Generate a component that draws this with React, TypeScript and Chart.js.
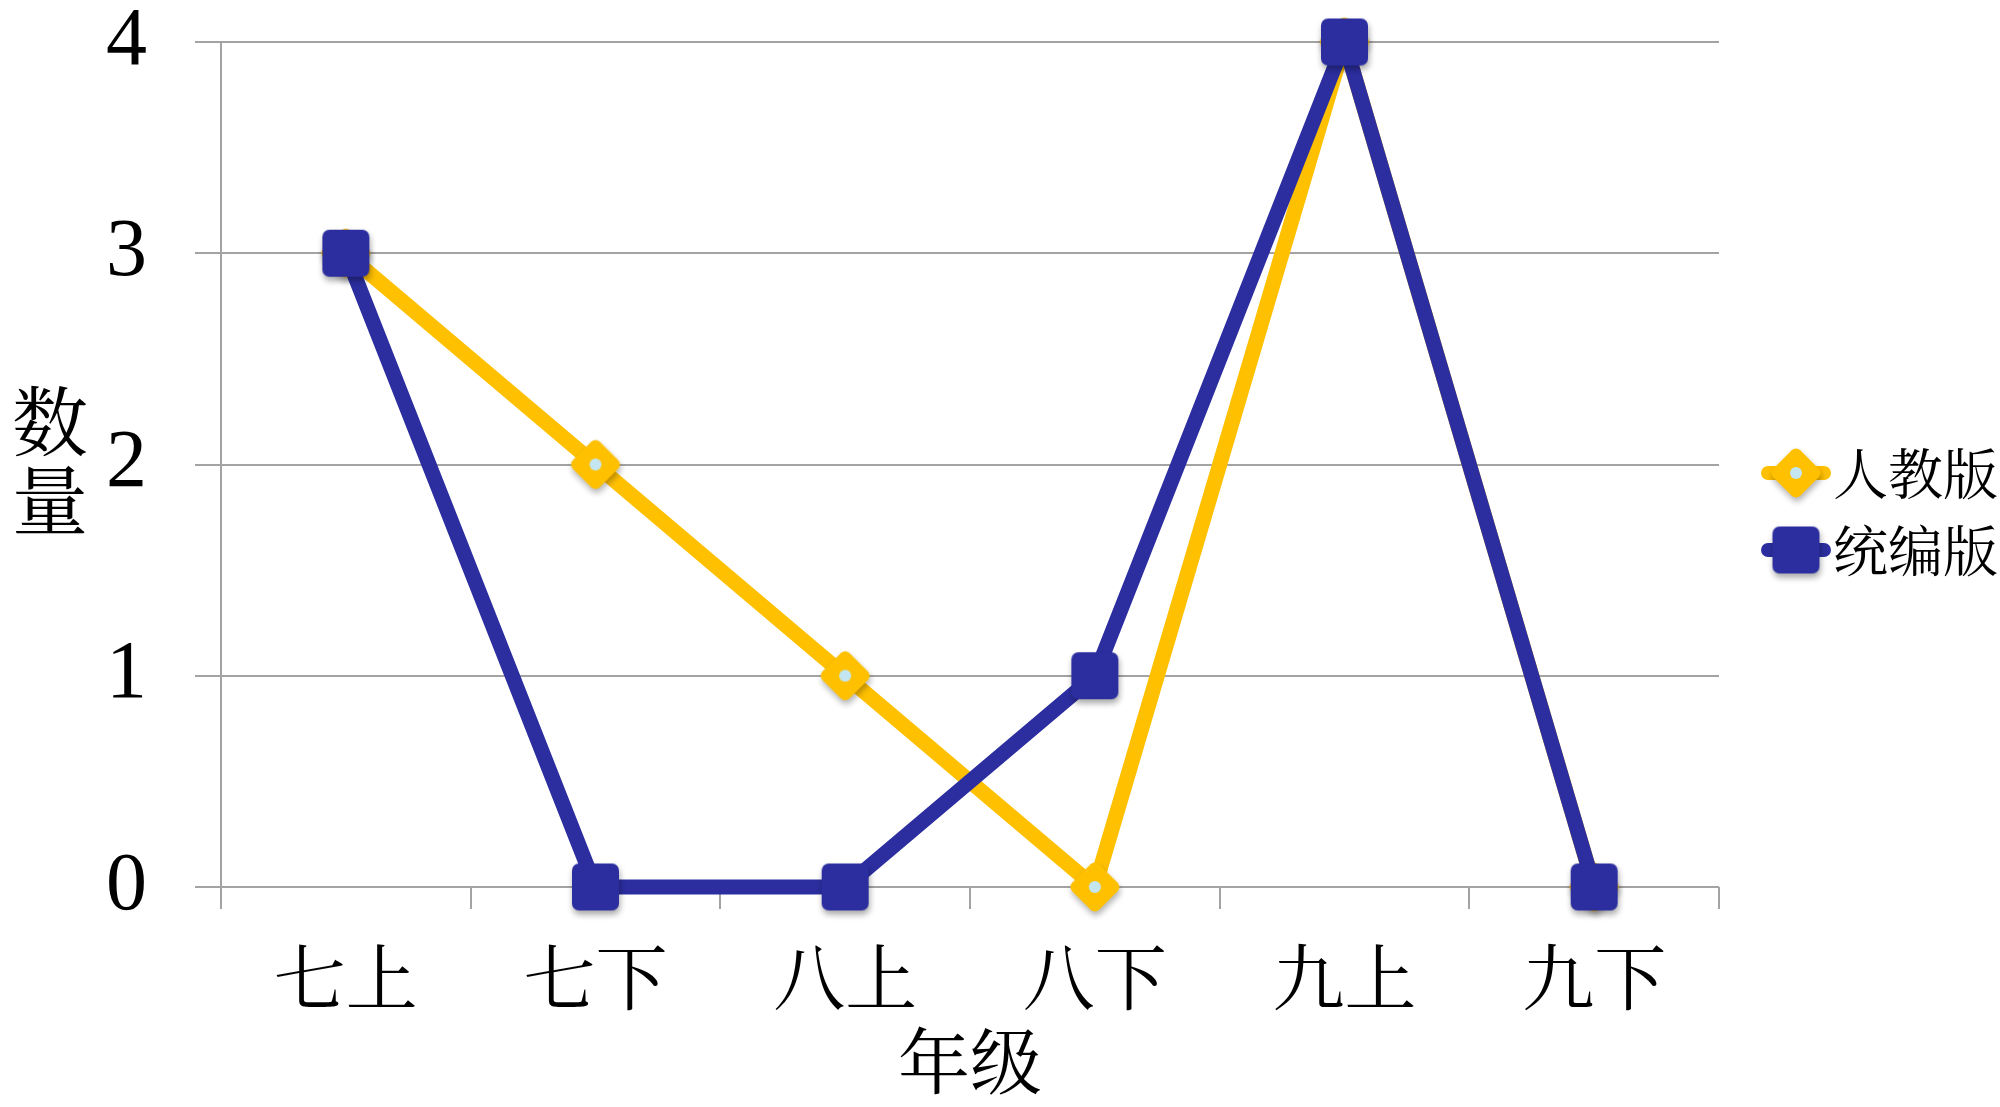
import React, { useEffect, useRef } from "react";
import { Chart, registerables } from "chart.js";

Chart.register(...registerables);

// Grades (semesters) along the x axis
const grades = ["七上", "七下", "八上", "八下", "九上", "九下"];
// Number of items per semester for each textbook edition
const renjiaoValues = [3, 2, 1, 0, 4, 0];
const tongbianValues = [3, 0, 0, 1, 4, 0];
const seriesNames = ["人教版", "统编版"];
const yTicks = [0, 1, 2, 3, 4];
const xTitle = "年级";
const yTitle = ["数", "量"];

const YELLOW = "#FFC000";
const BLUE = "#2c2ea0";
const GRID = "#a3a3a3";
const CJK = '"Noto Serif CJK SC", "Noto Sans CJK SC", sans-serif';
const SERIF = '"Liberation Serif", "DejaVu Serif", serif';

function roundRectPath(g: CanvasRenderingContext2D, x: number, y: number, w: number, h: number, r: number) {
  g.beginPath();
  g.moveTo(x + r, y);
  g.lineTo(x + w - r, y);
  g.arcTo(x + w, y, x + w, y + r, r);
  g.lineTo(x + w, y + h - r);
  g.arcTo(x + w, y + h, x + w - r, y + h, r);
  g.lineTo(x + r, y + h);
  g.arcTo(x, y + h, x, y + h - r, r);
  g.lineTo(x, y + r);
  g.arcTo(x, y, x + r, y, r);
  g.closePath();
}

// Rounded square marker with a soft drop shadow
function makeSquareMarker(color: string, size: number, radius: number): HTMLCanvasElement {
  const pad = 12;
  const c = document.createElement("canvas");
  c.width = size + pad * 2;
  c.height = size + pad * 2;
  const g = c.getContext("2d")!;
  g.shadowColor = "rgba(0,0,0,0.35)";
  g.shadowBlur = 6;
  g.shadowOffsetX = 1;
  g.shadowOffsetY = 4;
  g.fillStyle = color;
  roundRectPath(g, pad, pad, size, size, radius);
  g.fill();
  return c;
}

// Diamond marker with a pale centre dot
function makeDiamondMarker(color: string, centre: string, half: number): HTMLCanvasElement {
  const pad = 12;
  const c = document.createElement("canvas");
  c.width = half * 2 + pad * 2;
  c.height = half * 2 + pad * 2;
  const g = c.getContext("2d")!;
  const cx = c.width / 2;
  const cy = c.height / 2;
  const side = half * Math.SQRT2;
  g.save();
  g.shadowColor = "rgba(0,0,0,0.3)";
  g.shadowBlur = 6;
  g.shadowOffsetX = 1;
  g.shadowOffsetY = 4;
  g.translate(cx, cy);
  g.rotate(Math.PI / 4);
  g.fillStyle = color;
  roundRectPath(g, -side / 2, -side / 2, side, side, 6);
  g.fill();
  g.restore();
  g.fillStyle = centre;
  g.beginPath();
  g.arc(cx, cy, 6, 0, Math.PI * 2);
  g.fill();
  return c;
}

export default function App() {
  const ref = useRef<HTMLCanvasElement | null>(null);

  useEffect(() => {
    if (!ref.current) return;
    const diamond = makeDiamondMarker(YELLOW, "#c4e6f0", 27);
    const square = makeSquareMarker(BLUE, 47, 7);
    const markers = [diamond, square];

    const legendAndTitle = {
      id: "legendAndTitle",
      afterDraw(chart: any) {
        const ctx: CanvasRenderingContext2D = chart.ctx;
        // vertical y-axis title, characters stacked
        ctx.save();
        ctx.fillStyle = "#000";
        ctx.font = `76px ${CJK}`;
        ctx.textAlign = "center";
        ctx.textBaseline = "middle";
        yTitle.forEach((ch, i) => ctx.fillText(ch, 50, 421 + i * 79));
        ctx.restore();

        // legend on the right
        const rows = [473, 550];
        chart.data.datasets.forEach((ds: any, i: number) => {
          const y = rows[i];
          ctx.save();
          ctx.strokeStyle = ds.borderColor;
          ctx.lineWidth = 14;
          ctx.lineCap = "round";
          ctx.beginPath();
          ctx.moveTo(1768, y);
          ctx.lineTo(1824, y);
          ctx.stroke();
          const m = markers[i];
          ctx.drawImage(m, 1796 - m.width / 2, y - m.height / 2);
          ctx.fillStyle = "#000";
          ctx.font = `55px ${CJK}`;
          ctx.textAlign = "left";
          ctx.textBaseline = "middle";
          ctx.fillText(ds.label, 1833, y);
          ctx.restore();
        });
      },
    };

    const chart = new Chart(ref.current, {
      type: "line",
      data: {
        labels: grades,
        datasets: [
          {
            label: seriesNames[0],
            data: renjiaoValues,
            borderColor: YELLOW,
            backgroundColor: YELLOW,
            borderWidth: 15,
            borderJoinStyle: "round",
            pointStyle: diamond as any,
            pointRadius: 26,
            order: 2,
            tension: 0,
            clip: false as any,
          },
          {
            label: seriesNames[1],
            data: tongbianValues,
            borderColor: BLUE,
            backgroundColor: BLUE,
            borderWidth: 15,
            borderJoinStyle: "round",
            pointStyle: square as any,
            pointRadius: 24,
            order: 1,
            tension: 0,
            clip: false as any,
          },
        ],
      },
      options: {
        animation: false,
        responsive: false,
        devicePixelRatio: 1,
        events: [],
        layout: { padding: { top: 42, right: 281, left: 0, bottom: 0 } },
        plugins: {
          legend: { display: false },
          tooltip: { enabled: false },
        },
        scales: {
          x: {
            type: "category",
            offset: true,
            grid: {
              offset: true,
              drawOnChartArea: false,
              drawTicks: true,
              tickLength: 22,
              color: GRID,
              lineWidth: 2,
            },
            border: { display: false },
            ticks: {
              color: "#000",
              font: { family: CJK, size: 72, lineHeight: 1 },
              padding: 32,
              maxRotation: 0,
              autoSkip: false,
            },
            title: {
              display: true,
              text: xTitle,
              color: "#000",
              font: { family: CJK, size: 72, lineHeight: 1 },
              padding: { top: 0, bottom: 10 },
            },
            afterFit(scale: any) {
              scale.height = 220;
              scale.paddingLeft = 0;
              scale.paddingRight = 0;
            },
          },
          y: {
            min: 0,
            max: 4,
            afterBuildTicks(scale: any) {
              scale.ticks = yTicks.map((v) => ({ value: v }));
            },
            ticks: {
              stepSize: 1,
              color: "#000",
              font: { family: SERIF, size: 82, lineHeight: 1 },
              padding: 48,
            },
            grid: {
              color: GRID,
              lineWidth: 2,
              drawTicks: true,
              tickLength: 26,
            },
            border: { display: true, color: GRID, width: 2 },
            afterFit(scale: any) {
              scale.width = 221;
              scale.paddingTop = 0;
              scale.paddingBottom = 0;
            },
          },
        },
      },
      plugins: [legendAndTitle],
    });
    return () => chart.destroy();
  }, []);

  return (
    <div style={{ position: "absolute", left: 0, top: 0, width: 2000, height: 1107, background: "#fff" }}>
      <canvas ref={ref} width={2000} height={1107} style={{ width: 2000, height: 1107, display: "block" }} />
    </div>
  );
}
